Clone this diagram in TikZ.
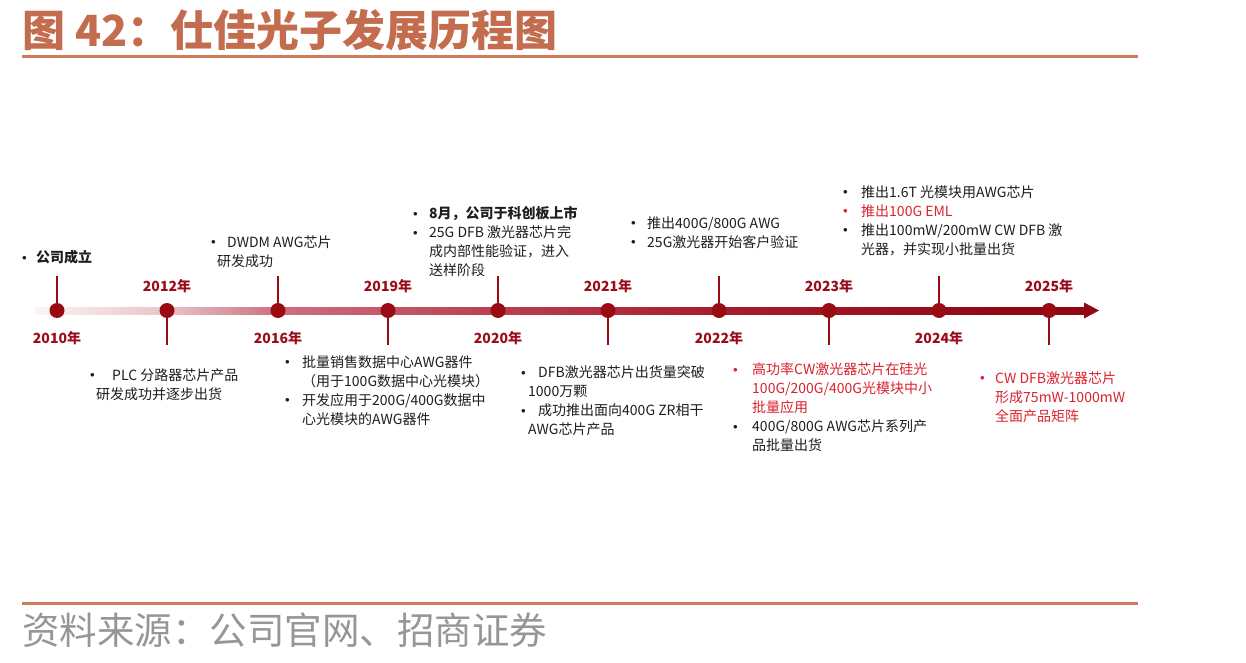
\documentclass[tikz,border=0pt]{standalone}
\usepackage{fontspec}
\setmainfont{Noto Sans CJK SC}
\definecolor{titlec}{RGB}{196,108,78}
\definecolor{rulec}{RGB}{208,124,92}
\definecolor{yearc}{RGB}{155,12,26}
\definecolor{dotc}{RGB}{154,10,18}
\definecolor{axisdark}{RGB}{144,8,18}
\definecolor{axA}{RGB}{252,244,245}
\definecolor{axB}{RGB}{232,196,200}
\definecolor{axC}{RGB}{204,112,128}
\definecolor{axD}{RGB}{184,64,80}
\definecolor{axE}{RGB}{168,32,48}
\definecolor{axF}{RGB}{144,8,18}
\definecolor{redtxt}{RGB}{218,34,46}
\definecolor{txt}{RGB}{30,30,30}
\definecolor{srcc}{RGB}{150,150,150}
\pgfdeclarehorizontalshading{axisfade}{100bp}{color(0bp)=(axA); color(25bp)=(axA); color(31.25bp)=(axB); color(36.5bp)=(axC); color(47bp)=(axD); color(56.5bp)=(axE); color(71bp)=(axF); color(100bp)=(axF)}
\newcommand{\bul}[1][15pt]{\makebox[#1][l]{\raisebox{2.5pt}{\fontsize{9}{9}\selectfont$\bullet$}}}
\begin{document}
\begin{tikzpicture}[x=1pt,y=-1pt,
  dot/.style={circle,fill=dotc,inner sep=0,minimum size=15pt},
  stem/.style={draw=dotc,line width=2pt},
  yearlbl/.style={font=\bfseries\fontsize{14}{16}\selectfont,text=yearc,inner sep=0},
  body/.style={font=\fontsize{14}{19}\selectfont,text=txt,align=left,anchor=north west,inner sep=0},
]
\useasboundingbox[fill=white] (0,0) rectangle (1246,663);
\node[anchor=west,inner sep=0,font=\bfseries\fontsize{43}{45}\selectfont,text=titlec] (title) at (22,30) {图 42：仕佳光子发展历程图};
\draw[rulec,line width=3pt] (22,57) -- (1138,57);
\draw[rulec,line width=3pt] (22,603) -- (1138,603);
\node[anchor=west,inner sep=0,font=\fontsize{37.5}{40}\selectfont,text=srcc] (src) at (22,630) {资料来源：公司官网、招商证券};

\shade[shading=axisfade] (35,307) rectangle (1087,314);
\fill[axisdark] (1084,302.5) -- (1099,310.5) -- (1084,318.5) -- cycle;

\foreach \i/\x/\yr in {1/57/2010,3/278/2016,5/498/2020,7/719/2022,9/939/2024}{
  \coordinate (s\i) at (\x,276);
  \node[dot] (d\i) at (\x,310.5) {};
  \draw[stem] (d\i) -- (s\i);
  \node[yearlbl] (y\i) at (\x,338) {\yr 年};
}
\foreach \i/\x/\yr in {2/167/2012,4/388/2019,6/608/2021,8/829/2023,10/1049/2025}{
  \coordinate (s\i) at (\x,345);
  \node[dot] (d\i) at (\x,310.5) {};
  \draw[stem] (d\i) -- (s\i);
  \node[yearlbl] (y\i) at (\x,286) {\yr 年};
}

\node[body] (t2010) at (22,250.5) {{\bfseries\bul[14pt]公司成立}};
\node[body] (t2016) at (211,235.5) {\bul[16pt]DWDM AWG芯片\\\hspace*{6pt}研发成功};
\node[body] (t2020) at (413,206.5) {{\bfseries\bul[16pt]8月，公司于科创板上市}\\\bul[16pt]25G DFB 激光器芯片完\\\hspace*{16pt}成内部性能验证，进入\\\hspace*{16pt}送样阶段};
\node[body] (t2022) at (631,216.5) {\bul[16pt]推出400G/800G AWG\\\bul[16pt]25G激光器开始客户验证};
\node[body] (t2024) at (843,185.5) {\bul[18pt]推出1.6T 光模块用AWG芯片\\{\color{redtxt}\bul[18pt]推出100G EML}\\\bul[18pt]推出100mW/200mW CW DFB 激\\\hspace*{18pt}光器，并实现小批量出货};

\node[body] (t2012) at (90,368.5) {\bul[22pt]PLC 分路器芯片产品\\\hspace*{6pt}研发成功并逐步出货};
\node[body] (t2019) at (285,355.5) {\bul[17pt]批量销售数据中心AWG器件\\\hspace*{17pt}（用于100G数据中心光模块）\\\bul[17pt]开发应用于200G/400G数据中\\\hspace*{17pt}心光模块的AWG器件};
\node[body] (t2021) at (521,365.5) {\bul[17pt]DFB激光器芯片出货量突破\\\hspace*{7pt}1000万颗\\\bul[17pt]成功推出面向400G ZR相干\\\hspace*{7pt}AWG芯片产品};
\node[body] (t2023) at (733,362.5) {{\color{redtxt}\bul[19pt]高功率CW激光器芯片在硅光}\\{\color{redtxt}\hspace*{19pt}100G/200G/400G光模块中小}\\{\color{redtxt}\hspace*{19pt}批量应用}\\\bul[19pt]400G/800G AWG芯片系列产\\\hspace*{19pt}品批量出货};
\node[body,text=redtxt] (t2025) at (980,371.5) {\bul[15pt]CW DFB激光器芯片\\\hspace*{15pt}形成75mW-1000mW\\\hspace*{15pt}全面产品矩阵};
\end{tikzpicture}
\end{document}
